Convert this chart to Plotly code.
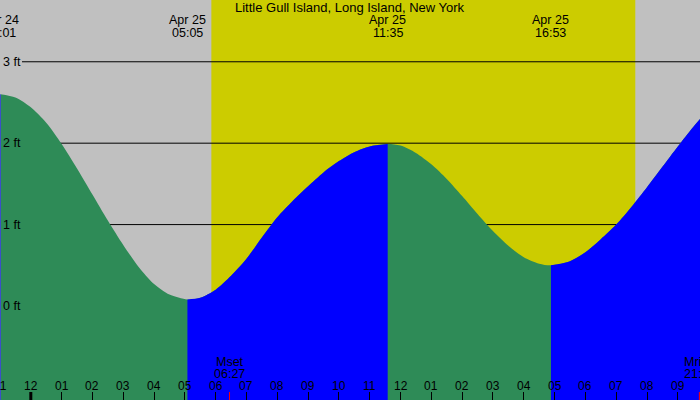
import plotly.graph_objects as go

# ---- data (hours relative to Apr 25 00:00, tide level in ft) ----
fall1_t = [-0.983, -0.5, 0, 0.5, 1, 1.5, 2, 2.5, 3, 3.5, 4, 4.5, 5.083]
fall1_h = [2.60, 2.56, 2.44, 2.25, 1.99, 1.69, 1.37, 1.05, 0.75, 0.48, 0.27, 0.14, 0.08]

rise1_t = [5.083, 5.5, 6, 6.5, 7, 7.5, 8, 8.5, 9, 9.5, 10, 10.5, 11, 11.583]
rise1_h = [0.08, 0.10, 0.20, 0.37, 0.58, 0.84, 1.09, 1.29, 1.47, 1.64, 1.78, 1.89, 1.96, 1.99]

fall2_t = [11.583, 12, 12.5, 13, 13.5, 14, 14.5, 15, 15.5, 16, 16.5, 16.883]
fall2_h = [1.99, 1.97, 1.88, 1.74, 1.56, 1.35, 1.13, 0.92, 0.74, 0.60, 0.52, 0.50]

rise2_t = [16.883, 17.5, 18, 18.5, 19, 19.5, 20, 20.5, 21, 21.5, 22]
rise2_h = [0.50, 0.55, 0.66, 0.82, 1.00, 1.22, 1.46, 1.71, 1.96, 2.20, 2.42]

rise0_t = [-1.2, -0.983]
rise0_h = [2.58, 2.60]

extreme_t = [-0.983, 5.083, 11.583, 16.883]
extreme_date = ["Apr 24", "Apr 25", "Apr 25", "Apr 25"]
extreme_time = ["23:01", "05:05", "11:35", "16:53"]

sunrise_t, sunset_t = 5.86, 19.62
moon_t = [6.45, 21.70]
moon_name = ["Mset", "Mrise"]
moon_time = ["06:27", "21:42"]

hour_ticks = list(range(-1, 22))
hour_labels = ["11", "12", "01", "02", "03", "04", "05", "06", "07", "08", "09", "10",
               "11", "12", "01", "02", "03", "04", "05", "06", "07", "08", "09"]
midnight_t = 0

ft_levels = [0, 1, 2, 3]
ft_labels = ["0 ft", "1 ft", "2 ft", "3 ft"]

title = "Little Gull Island, Long Island, New York"

# ---- styling ----
GRAY = "#C0C0C0"
YELLOW = "#CCCC00"
GREEN = "#2E8B57"
BLUE = "#0000FF"
FONT = "Liberation Sans"
X_RANGE = [-1.0, 21.72]
Y_RANGE = [-1.155, 3.759]
BASE = -3

fig = go.Figure()

# whole curve in green first, then rising segments overlaid in blue
all_t = fall1_t + rise1_t[1:] + fall2_t[1:] + rise2_t[1:]
all_h = fall1_h + rise1_h[1:] + fall2_h[1:] + rise2_h[1:]
layers = [(all_t, all_h, GREEN), (rise0_t, rise0_h, BLUE), (rise1_t, rise1_h, BLUE),
          (rise2_t, rise2_h, BLUE)]
for ts, hs, col in layers:
    fig.add_trace(go.Scatter(x=[ts[0], ts[-1]], y=[BASE, BASE], mode="lines",
                             line=dict(width=0, color=col), hoverinfo="skip", showlegend=False))
    fig.add_trace(go.Scatter(x=ts, y=hs, mode="lines", fill="tonexty", fillcolor=col,
                             line=dict(width=0, color=col, shape="spline", smoothing=0.8),
                             hoverinfo="skip", showlegend=False))

shapes = [dict(type="rect", xref="x", yref="paper", x0=sunrise_t, x1=sunset_t, y0=0, y1=1,
               fillcolor=YELLOW, line=dict(width=0), layer="below")]
for lv in ft_levels:
    shapes.append(dict(type="line", xref="paper", yref="y", x0=22 / 700, x1=1, y0=lv, y1=lv,
                       line=dict(color="black", width=1), layer="below"))
shapes.append(dict(type="line", xref="x", yref="paper", x0=midnight_t, x1=midnight_t,
                   y0=0, y1=8 / 400, line=dict(color="black", width=3), layer="above"))
for mt in moon_t:
    shapes.append(dict(type="line", xref="x", yref="paper", x0=mt, x1=mt,
                       y0=0, y1=8 / 400, line=dict(color="red", width=1), layer="above"))

ann = []
fnt = dict(family=FONT, size=12, color="black")
fnt_top = dict(family=FONT, size=12.5, color="black")
fnt_title = dict(family=FONT, size=13, color="black")
ann.append(dict(text=title, xref="paper", yref="paper", x=0.5, y=1 - 7.5 / 400,
                xanchor="center", yanchor="middle", showarrow=False, font=fnt_title))
for t, d, tm in zip(extreme_t, extreme_date, extreme_time):
    ann.append(dict(text=d, xref="x", yref="paper", x=t, y=1 - 20 / 400,
                    xanchor="center", yanchor="middle", showarrow=False, font=fnt_top))
    ann.append(dict(text=tm, xref="x", yref="paper", x=t, y=1 - 32.5 / 400,
                    xanchor="center", yanchor="middle", showarrow=False, font=fnt_top))
for t, n, tm in zip(moon_t, moon_name, moon_time):
    ann.append(dict(text=n, xref="x", yref="paper", x=t, y=1 - 361.5 / 400,
                    xanchor="center", yanchor="middle", showarrow=False, font=fnt_top))
    ann.append(dict(text=tm, xref="x", yref="paper", x=t, y=1 - 373.5 / 400,
                    xanchor="center", yanchor="middle", showarrow=False, font=fnt_top))
for lv, lb in zip(ft_levels, ft_labels):
    ann.append(dict(text=lb, xref="paper", yref="y", x=0, y=lv, xshift=1,
                    xanchor="left", yanchor="middle", showarrow=False, font=fnt_top))
for t, lb in zip(hour_ticks, hour_labels):
    ann.append(dict(text=lb, xref="x", yref="paper", x=t, y=1 - 386 / 400,
                    xanchor="center", yanchor="middle", showarrow=False, font=fnt))

fig.update_layout(
    width=700, height=400, margin=dict(l=0, r=0, t=0, b=0),
    paper_bgcolor=GRAY, plot_bgcolor=GRAY,
    shapes=shapes, annotations=ann, showlegend=False,
    xaxis=dict(range=X_RANGE, showgrid=False, zeroline=False, showline=False,
               tickvals=hour_ticks, ticktext=[""] * len(hour_ticks), ticks="inside",
               ticklen=8, tickwidth=1, tickcolor="black", fixedrange=True),
    yaxis=dict(range=Y_RANGE, showgrid=False, zeroline=False, showline=False,
               showticklabels=False, ticks="", fixedrange=True),
)

fig.write_html("out.html", config={"displayModeBar": False})
